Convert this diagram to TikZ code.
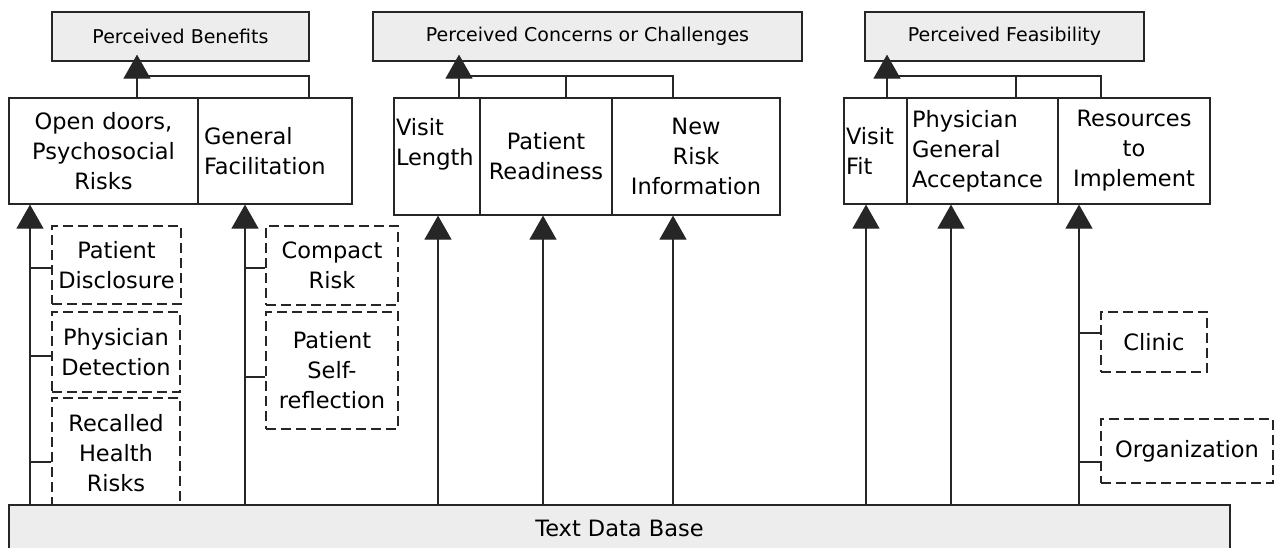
\documentclass[tikz,border=0pt]{standalone}
\usepackage{fontspec}
\setmainfont{DejaVu Sans}
\usetikzlibrary{arrows.meta}
\begin{document}
\begin{tikzpicture}[x=1pt,y=-1pt,
  lw/.style={line width=1.2pt, draw=black!85},
  hdr/.style={lw, fill=gray!14, minimum height=49pt, inner sep=0pt, font=\fontsize{19}{22}\selectfont},
  cell/.style={lw, inner ysep=0pt, font=\fontsize{22.5}{30}\selectfont},
  dbox/.style={lw, dash pattern=on 10pt off 5pt, inner sep=0pt, align=center, font=\fontsize{22.5}{30}\selectfont},
  arr/.style={lw, -{Triangle[width=27pt,length=24pt]}},
  con/.style={lw}]
\useasboundingbox (0,0) rectangle (1276,547);
% header boxes
\node[hdr, minimum width=257pt] (pb) at (180.5,36.5) {Perceived Benefits};
\node[hdr, minimum width=429pt] (pcc) at (587.5,36.5) {Perceived Concerns or Challenges};
\node[hdr, minimum width=279pt] (pf) at (1004.5,36.5) {Perceived Feasibility};
% category cells
\node[cell, inner xsep=0pt, text width=189pt, align=center, minimum height=106pt] (odr) at (103.5,151) {Open doors,\\Psychosocial\\Risks};
\node[cell, inner xsep=6pt, text width=142pt, align=left, minimum height=106pt] (gf) at (275,151) {General\\Facilitation};
\node[cell, inner xsep=2pt, text width=82pt, align=left, minimum height=117pt] (vl) at (437,156.5) {Visit\\Length\\\mbox{}};
\node[cell, inner xsep=0pt, text width=132pt, align=center, minimum height=117pt] (pr) at (546,156.5) {Patient\\Readiness};
\node[cell, inner xsep=0pt, text width=168pt, align=center, minimum height=117pt] (nri) at (696,156.5) {New\\Risk\\Information};
\node[cell, inner xsep=2pt, text width=59pt, align=left, minimum height=106pt] (vf) at (875.5,151) {Visit\\Fit};
\node[cell, inner xsep=5pt, text width=141pt, align=left, minimum height=106pt] (pga) at (982.5,151) {Physician\\General\\Acceptance};
\node[cell, inner xsep=0pt, text width=152pt, align=center, minimum height=106pt] (rti) at (1134,151) {Resources\\to\\Implement};
% dashed sub-boxes
\node[dbox, text width=129pt, minimum height=78pt] (pdis) at (116.5,265) {Patient\\Disclosure};
\node[dbox, text width=128pt, minimum height=80pt] (pdet) at (116,352) {Physician\\Detection};
\node[dbox, text width=128pt, minimum height=110pt] (rhr) at (116,453) {Recalled\\Health\\Risks};
\node[dbox, text width=132pt, minimum height=79pt] (cr) at (332,265.5) {Compact\\Risk};
\node[dbox, text width=132pt, minimum height=117pt] (psr) at (332,370.5) {Patient\\Self-\\reflection};
\node[dbox, text width=106pt, minimum height=60pt] (cl) at (1154,342) {Clinic};
\node[dbox, text width=172pt, minimum height=64pt] (org) at (1187,451) {Organization};
% data base
\node[lw, fill=gray!14, minimum width=1221pt, minimum height=46pt, inner sep=0pt, font=\fontsize{22.5}{30}\selectfont] (tdb) at (619.5,528) {Text Data Base};
% x positions of connectors
\coordinate (xa1) at (30,0);
\coordinate (xa2) at (245,0);
\coordinate (xc1) at (438,0);
\coordinate (xc2) at (543,0);
\coordinate (xc3) at (673,0);
\coordinate (xf1) at (866,0);
\coordinate (xf2) at (951,0);
\coordinate (xf3) at (1079,0);
\coordinate (xb2) at (309,0);
\coordinate (xd2) at (566,0);
\coordinate (xe2) at (1016,0);
\coordinate (xe3) at (1101,0);
\coordinate (ja) at (137,76);
\coordinate (jb) at (459,76);
\coordinate (jc) at (887,76);
% bottom arrows
\draw[arr] (tdb.north -| xa1) -- (odr.south -| xa1);
\draw[arr] (tdb.north -| xa2) -- (gf.south -| xa2);
\draw[arr] (tdb.north -| xc1) -- (vl.south -| xc1);
\draw[arr] (tdb.north -| xc2) -- (pr.south -| xc2);
\draw[arr] (tdb.north -| xc3) -- (nri.south -| xc3);
\draw[arr] (tdb.north -| xf1) -- (vf.south -| xf1);
\draw[arr] (tdb.north -| xf2) -- (pga.south -| xf2);
\draw[arr] (tdb.north -| xf3) -- (rti.south -| xf3);
% stubs
\draw[con] ([yshift=-3pt]pdis.west) -- ([yshift=-3pt]pdis.west -| xa1);
\draw[con] ([yshift=-4pt]pdet.west) -- ([yshift=-4pt]pdet.west -| xa1);
\draw[con] ([yshift=-9pt]rhr.west) -- ([yshift=-9pt]rhr.west -| xa1);
\draw[con] ([yshift=-2.5pt]cr.west) -- ([yshift=-2.5pt]cr.west -| xa2);
\draw[con] ([yshift=-6.5pt]psr.west) -- ([yshift=-6.5pt]psr.west -| xa2);
\draw[con] ([yshift=9pt]cl.west) -- ([yshift=9pt]cl.west -| xf3);
\draw[con] ([yshift=-11pt]org.west) -- ([yshift=-11pt]org.west -| xf3);
% top arrows
\draw[arr, shorten >=-7pt] (odr.north -| ja) -- (pb.south -| ja);
\draw[con] (gf.north -| xb2) |- (ja);
\draw[arr, shorten >=-7pt] (vl.north -| jb) -- (pcc.south -| jb);
\draw[con] (nri.north -| xc3) |- (jb);
\draw[con] (pr.north -| xd2) -- (xd2 |- jb);
\draw[arr, shorten >=-7pt] (vf.north -| jc) -- (pf.south -| jc);
\draw[con] (rti.north -| xe3) |- (jc);
\draw[con] (pga.north -| xe2) -- (xe2 |- jc);
\end{tikzpicture}
\end{document}
